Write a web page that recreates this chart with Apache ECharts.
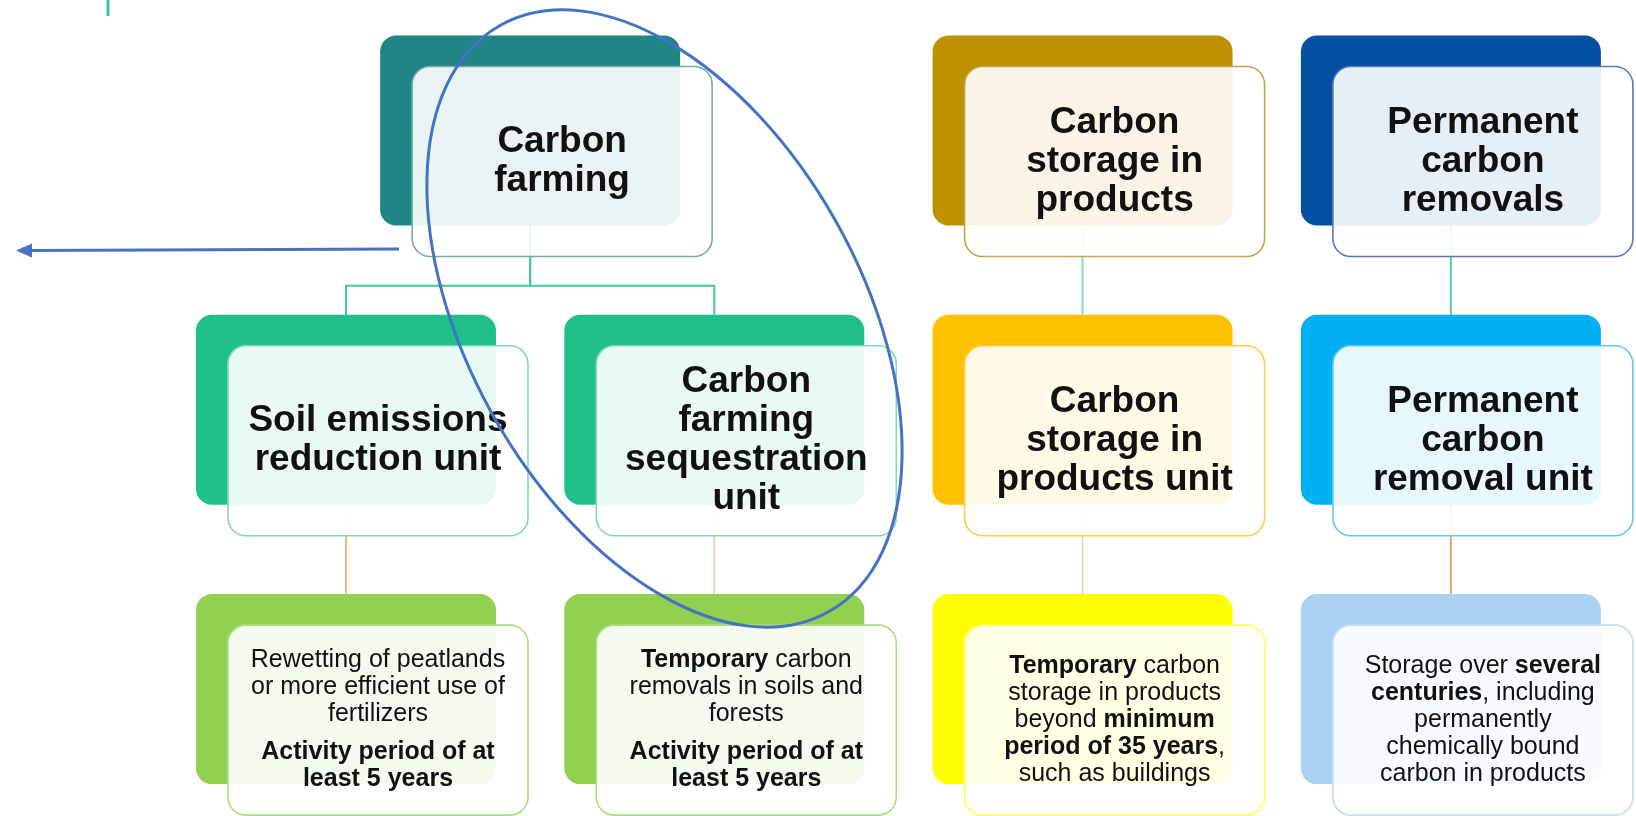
<!DOCTYPE html>
<html>
<head>
<meta charset="utf-8">
<script src="https://cdn.jsdelivr.net/npm/echarts@6/dist/echarts.min.js"></script>
<style>
  html, body { margin: 0; padding: 0; background: #fff; }
  #chart { width: 1636px; height: 816px; }
</style>
</head>
<body>
<div id="chart"></div>
<script>
// which column / tier every box sits in (tier 0 = scheme, 1 = unit, 2 = activity)
const boxColumn = [0.5, 2, 3, 0, 1, 2, 3, 0, 1, 2, 3];
const boxTier = [0, 0, 0, 1, 1, 1, 1, 2, 2, 2, 2];
const boxText = [
  "Carbon\nfarming",
  "Carbon\nstorage in\nproducts",
  "Permanent\ncarbon\nremovals",
  "Soil emissions\nreduction unit",
  "Carbon\nfarming\nsequestration\nunit",
  "Carbon\nstorage in\nproducts unit",
  "Permanent\ncarbon\nremoval unit",
  "Rewetting of peatlands\nor more efficient use of\nfertilizers\n{gap| }\n{b|Activity period of at}\n{b|least 5 years}",
  "{b|Temporary} carbon\nremovals in soils and\nforests\n{gap| }\n{b|Activity period of at}\n{b|least 5 years}",
  "{b|Temporary} carbon\nstorage in products\nbeyond {b|minimum}\n{b|period of 35 years},\nsuch as buildings",
  "Storage over {b|several}\n{b|centuries}, including\npermanently\nchemically bound\ncarbon in products",
];
const boxColor = ["#1f8585", "#bf9000", "#0450a2", "#20c08a", "#20c08a", "#ffc000", "#00b0f0", "#92d050", "#92d050", "#ffff00", "#a9d1f1"];
const boxBorder = ["#7aa9a9", "#c9a146", "#5577bb", "#86d9b6", "#86d9b6", "#ffcb4a", "#66c6f0", "#a9e07c", "#a9e07c", "#ffff55", "#c3ddf4"];

// parent -> child box index
const links = [[0, 3], [0, 4], [1, 5], [2, 6], [3, 7], [4, 8], [5, 9], [6, 10]];
const linkColor = ["#3fca95", "#3fca95", "#8edcbd", "#5ccc9f", "#f0a468", "#f6c7a2", "#f6cba8", "#ee9040"];

const BOX_W = 300, BOX_H = 190, SHIFT_X = 32, SHIFT_Y = 31;
const FONT = "Liberation Sans, Arial, sans-serif";

const chart = echarts.init(document.getElementById("chart"));

const option = {
  animation: false,
  backgroundColor: "#fff",
  grid: { left: 0, right: 0, top: 0, bottom: 0 },
  xAxis: { type: "value", min: -0.9394, max: 3.5026, show: false },
  yAxis: { type: "value", min: -0.4672, max: 2.4544, inverse: true, show: false },
  series: [
    {
      type: "custom",
      z: 1,
      clip: false,
      silent: true,
      data: links.map((l, k) => [boxColumn[l[0]], boxTier[l[0]], boxColumn[l[1]], boxTier[l[1]], k]),
      renderItem(params, api) {
        const p = api.coord([api.value(0), api.value(1)]);
        const c = api.coord([api.value(2), api.value(3)]);
        const k = api.value(4);
        const top = p[1] + BOX_H / 2;
        const mid = (p[1] + BOX_H / 2 + SHIFT_Y + c[1] - BOX_H / 2) / 2;
        return {
          type: "polyline",
          shape: { points: [[p[0], top], [p[0], mid], [c[0], mid], [c[0], c[1] - BOX_H / 2]] },
          style: { stroke: linkColor[k], lineWidth: boxTier[links[k][0]] === 0 ? 2 : 1.6, fill: null },
        };
      },
    },
    {
      type: "custom",
      z: 2,
      clip: false,
      silent: true,
      data: boxColumn.map((c, i) => [c, boxTier[i], i]),
      renderItem(params, api) {
        const i = api.value(2);
        const p = api.coord([api.value(0), api.value(1)]);
        const x = p[0] - BOX_W / 2, y = p[1] - BOX_H / 2;
        const small = boxTier[i] === 2;
        return {
          type: "group",
          children: [
            {
              type: "rect",
              shape: { x: x, y: y, width: BOX_W, height: BOX_H, r: 16 },
              style: { fill: boxColor[i] },
            },
            {
              type: "rect",
              shape: { x: x + SHIFT_X, y: y + SHIFT_Y, width: BOX_W, height: BOX_H, r: 18 },
              style: { fill: "rgba(255,255,255,0.9)", stroke: boxBorder[i], lineWidth: 1.6 },
            },
            {
              type: "text",
              x: p[0] + SHIFT_X,
              y: p[1] + SHIFT_Y,
              style: {
                text: boxText[i],
                align: "center",
                verticalAlign: "middle",
                fill: "#111",
                fontFamily: FONT,
                fontSize: small ? 25 : 37,
                fontWeight: small ? "normal" : "bold",
                lineHeight: small ? 27 : 39,
                rich: {
                  b: { fontFamily: FONT, fontSize: 25, fontWeight: "bold", lineHeight: 27, fill: "#111" },
                  gap: { fontSize: 6, lineHeight: 11 },
                },
              },
            },
          ],
        };
      },
    },
  ],
  graphic: [
    // cut-off connector at the top left
    { type: "line", shape: { x1: 108, y1: 0, x2: 108, y2: 16 }, style: { stroke: "#40c3a0", lineWidth: 3 }, z: 5 },
    // hand-drawn annotation: arrow and ellipse
    { type: "line", shape: { x1: 399, y1: 249, x2: 28, y2: 250.5 }, style: { stroke: "#4472c4", lineWidth: 3 }, z: 10 },
    { type: "polygon", shape: { points: [[16, 250.5], [32, 243.5], [32, 257.5]] }, style: { fill: "#4472c4" }, z: 10 },
    {
      type: "ellipse",
      x: 664.5,
      y: 318.5,
      rotation: 0.51,
      shape: { cx: 0, cy: 0, rx: 197, ry: 336 },
      style: { fill: null, stroke: "#4472c4", lineWidth: 3 },
      z: 10,
    },
  ],
};

chart.setOption(option);
</script>
</body>
</html>
